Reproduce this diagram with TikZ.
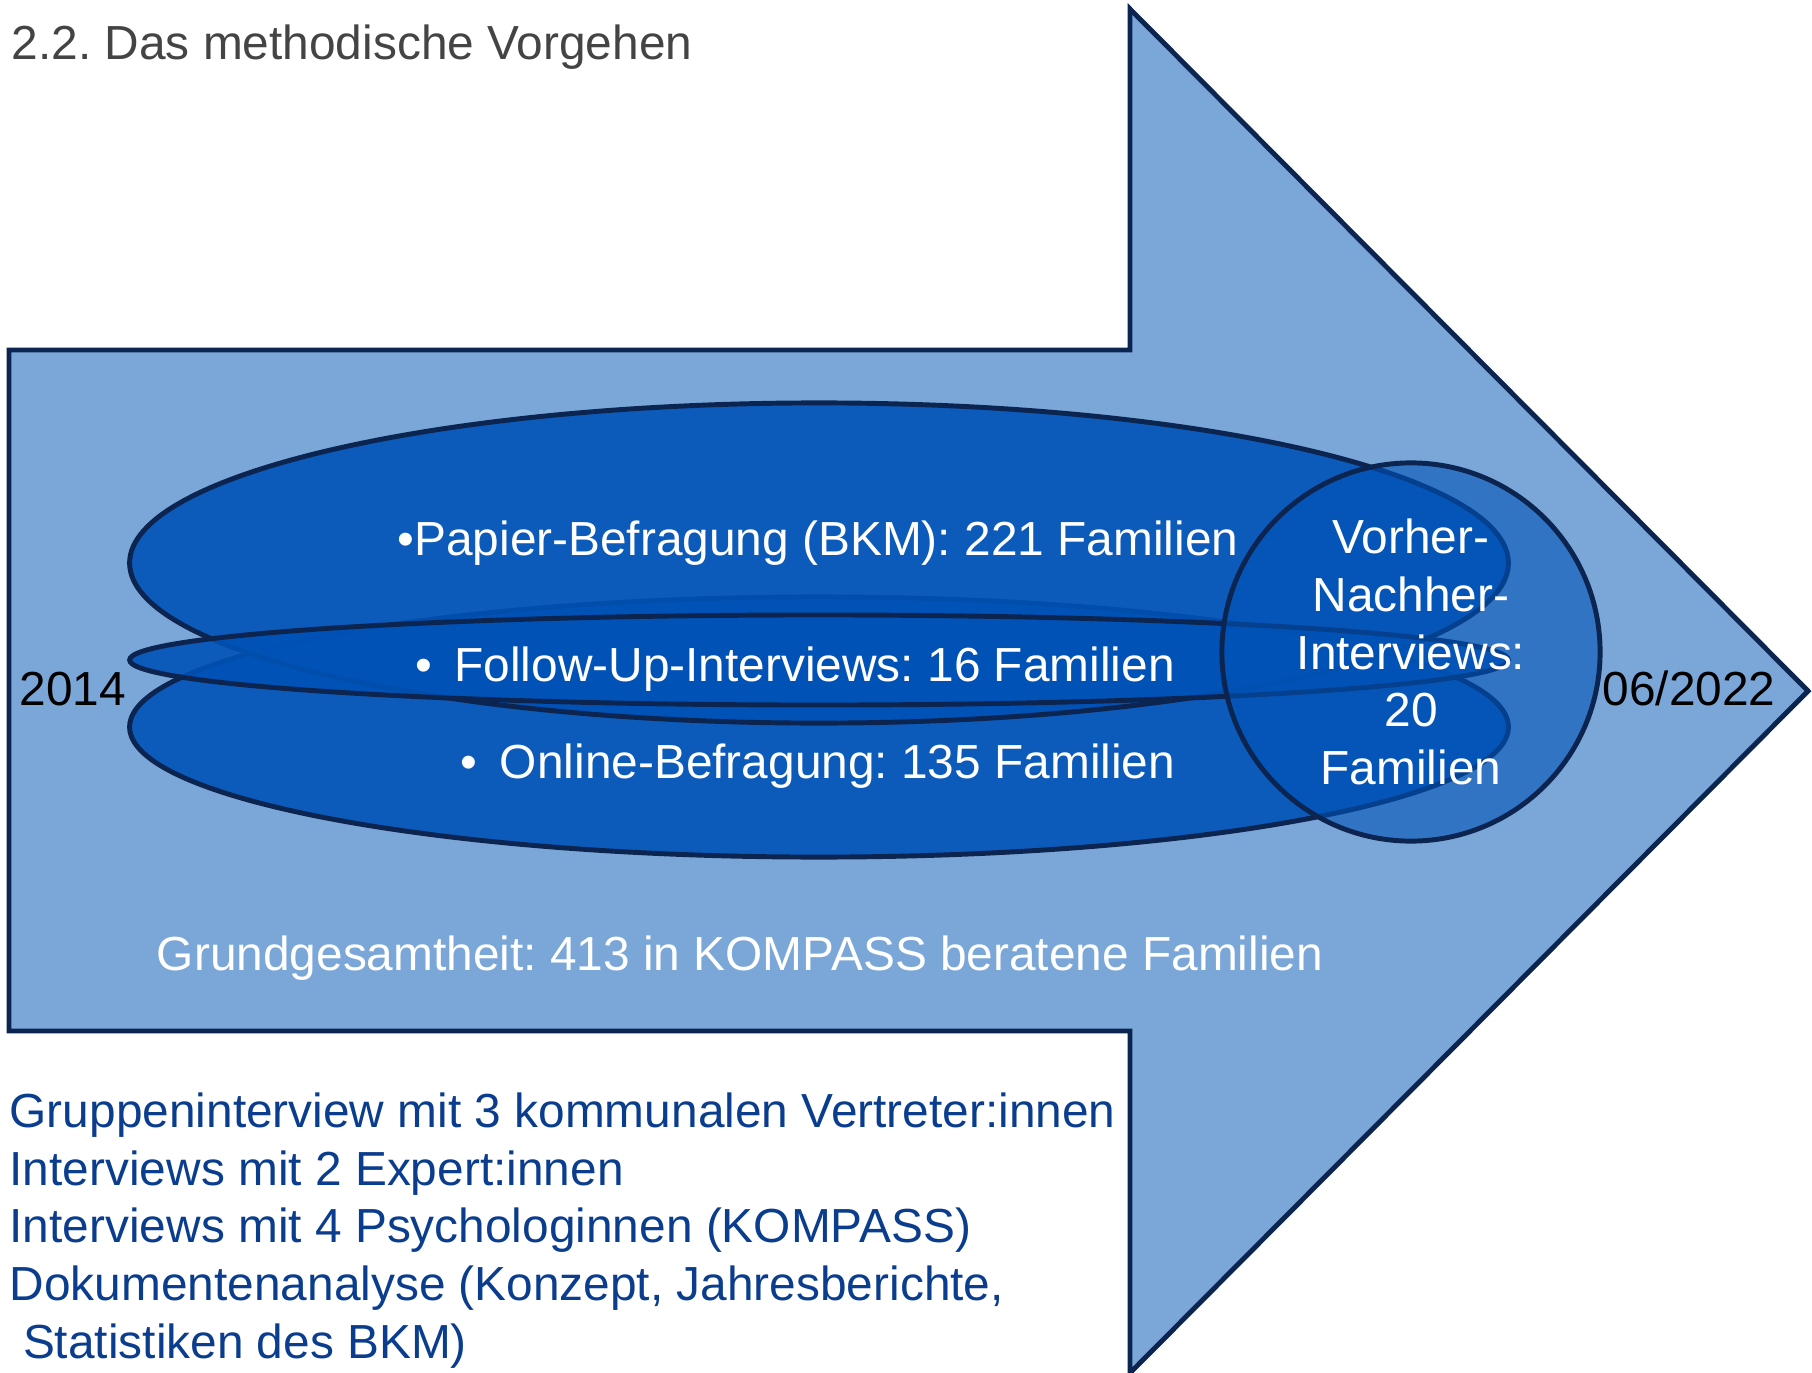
\documentclass[tikz,border=0pt]{standalone}
\usepackage{fontspec}
\setmainfont{Liberation Sans}
\usepackage{tikz}
\usetikzlibrary{shapes.geometric}
\definecolor{kpnavy}{HTML}{0C2550}
\definecolor{kplight}{HTML}{7BA7D8}
\definecolor{kpblue}{HTML}{0052B6}
\definecolor{kpink}{HTML}{0B3D8E}
\definecolor{kpgrey}{HTML}{444444}
\newcommand{\kpfont}{\fontsize{13.6}{16.4}\selectfont}
\frenchspacing
\tikzset{
  pfeil/.style={draw=kpnavy,line width=1.4pt,fill=kplight},
  oval/.style={ellipse,draw=kpnavy,line width=1.4pt,fill=kpblue,fill opacity=0.9,minimum width=13.78cm,inner sep=0pt},
  kreis/.style={circle,draw=kpnavy,line width=1.4pt,fill=kpblue,fill opacity=0.6,text opacity=1,minimum size=3.78cm,inner sep=0pt,text=white,font=\kpfont,align=center},
  wtxt/.style={text=white,font=\kpfont,inner sep=0pt},
  btxt/.style={text=black,font=\kpfont,inner sep=0pt},
}

\begin{document}
\begin{tikzpicture}[x=0.01cm,y=-0.01cm]
  \useasboundingbox (0,0) rectangle (1812,1373);
  \node[font=\kpfont,text=kpgrey,inner sep=0pt,anchor=base west] (titel) at (11,60) {2.2. Das methodische Vorgehen};

  % big arrow 2014 -> 06/2022
  \draw[pfeil] (9,350) -- (1130,350) -- (1130,9) -- (1808,691) -- (1130,1373) -- (1130,1031) -- (9,1031) -- cycle;

  % the three surveys + circle
  \node[oval,minimum height=2.6cm] (online) at (819,727) {};
  \node[oval,minimum height=3.2cm] (papier) at (819,563) {};
  \node[oval,minimum height=0.9cm] (follow) at (819,660) {};
  \node[kreis] (vorher) at (1411,652) {Vorher-\\Nachher-\\Interviews:\\20\\Familien};

  \node[wtxt,anchor=base] (papiertxt) at (818,555) {•Papier-Befragung (BKM): 221 Familien};
  \node[wtxt,anchor=base] (followtxt) at (795,681) {•\hspace{0.47em}Follow-Up-Interviews: 16 Familien};
  \node[wtxt,anchor=base] (onlinetxt) at (818,778) {•\hspace{0.47em}Online-Befragung: 135 Familien};
  \node[wtxt,anchor=base] (grund) at (740,970) {Grundgesamtheit: 413 in KOMPASS beratene Familien};

  \node[btxt,anchor=base west] (start) at (19,705) {2014};
  \node[btxt,anchor=base west] (ende) at (1602,705) {06/2022};

  % further data sources
  \node[font=\kpfont,text=kpink,inner sep=0pt,anchor=north west,align=left] (quellen) at (9,1092)
    {Gruppeninterview mit 3 kommunalen Vertreter:innen\\Interviews mit 2 Expert:innen\\Interviews mit 4 Psychologinnen (KOMPASS)\\Dokumentenanalyse (Konzept, Jahresberichte,\\\hspace*{0.28em}Statistiken des BKM)};
\end{tikzpicture}
\end{document}
